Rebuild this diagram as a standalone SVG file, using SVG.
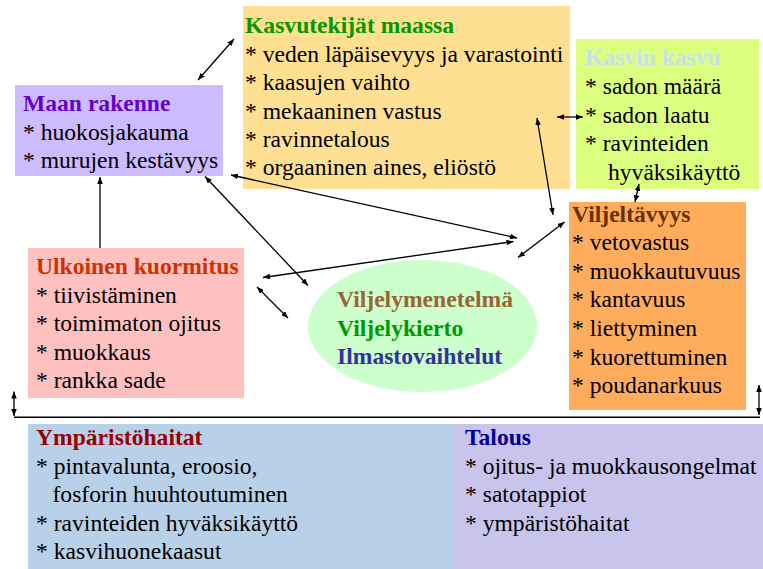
<svg xmlns="http://www.w3.org/2000/svg" width="763" height="569" viewBox="0 0 763 569">
<style>
text{font-family:"Times New Roman","Liberation Serif","DejaVu Serif",serif;font-size:23.6px;fill:#000}
.h{font-weight:bold}
.c{stroke:#000;stroke-width:1.3;fill:none}
</style>
<defs>
<marker id="ah" viewBox="0 0 10 8" refX="10" refY="4" markerWidth="7" markerHeight="5.6" markerUnits="userSpaceOnUse" orient="auto-start-reverse">
<path d="M0,0 L10,4 L0,8 z" fill="#000"/>
</marker>
</defs>
<rect width="763" height="569" fill="#fff"/>

<g id="kasvutekijat">
<rect x="243" y="6" width="327" height="183" fill="#FFDF91"/>
<text x="245" y="33" class="h" style="fill:#009900">Kasvutekijät maassa</text>
<text x="245" y="61.5">* veden läpäisevyys ja varastointi</text>
<text x="245" y="90">* kaasujen vaihto</text>
<text x="245" y="118.5">* mekaaninen vastus</text>
<text x="245" y="147">* ravinnetalous</text>
<text x="245" y="175">* orgaaninen aines, eliöstö</text>
</g>

<g id="maan-rakenne">
<rect x="15" y="85" width="208" height="91" fill="#CCBBFF"/>
<text x="23" y="110.5" class="h" style="fill:#6600CC">Maan rakenne</text>
<text x="23" y="139.5">* huokosjakauma</text>
<text x="23" y="168">* murujen kestävyys</text>
</g>

<g id="kasvin-kasvu">
<rect x="576" y="39" width="183" height="150" fill="#DDFF7F"/>
<text x="585" y="65" class="h" style="fill:#C6DFF0">Kasvin kasvu</text>
<text x="585" y="94">* sadon määrä</text>
<text x="585" y="122.5">* sadon laatu</text>
<text x="585" y="151">* ravinteiden</text>
<text x="608" y="179.5">hyväksikäyttö</text>
</g>

<g id="viljeltavyys">
<rect x="569" y="202" width="177" height="208" fill="#FFAD5C"/>
<text x="572" y="221.5" class="h" style="fill:#663300">Viljeltävyys</text>
<text x="572" y="250">* vetovastus</text>
<text x="572" y="278.5">* muokkautuvuus</text>
<text x="572" y="307">* kantavuus</text>
<text x="572" y="336">* liettyminen</text>
<text x="572" y="364.5">* kuorettuminen</text>
<text x="572" y="393">* poudanarkuus</text>
</g>

<g id="ulkoinen-kuormitus">
<rect x="28" y="248" width="216" height="150" fill="#FFC0C0"/>
<text x="36" y="273.5" class="h" style="fill:#CC3300">Ulkoinen kuormitus</text>
<text x="36" y="302.5">* tiivistäminen</text>
<text x="36" y="331">* toimimaton ojitus</text>
<text x="36" y="359.5">* muokkaus</text>
<text x="36" y="388">* rankka sade</text>
</g>

<g id="viljely">
<ellipse cx="422.5" cy="326" rx="114.5" ry="66" fill="#CCFFCC"/>
<text x="337" y="307" class="h" style="fill:#996633">Viljelymenetelmä</text>
<text x="337" y="335.5" class="h" style="fill:#009900">Viljelykierto</text>
<text x="337" y="364" class="h" style="fill:#333399">Ilmastovaihtelut</text>
</g>

<g id="ymparistohaitat">
<rect x="28" y="424" width="425" height="145" fill="#B8D0E8"/>
<text x="36" y="445" class="h" style="fill:#990000">Ympäristöhaitat</text>
<text x="36" y="473.5">* pintavalunta, eroosio,</text>
<text x="52.5" y="502">fosforin huuhtoutuminen</text>
<text x="36" y="530.5">* ravinteiden hyväksikäyttö</text>
<text x="36" y="559">* kasvihuonekaasut</text>
</g>

<g id="talous">
<rect x="453" y="424" width="310" height="145" fill="#C8C4EC"/>
<text x="465" y="445" class="h" style="fill:#000099">Talous</text>
<text x="465" y="473.5">* ojitus- ja muokkausongelmat</text>
<text x="465" y="502">* satotappiot</text>
<text x="465" y="530.5">* ympäristöhaitat</text>
</g>

<g id="connectors">
<line class="c" x1="198" y1="80" x2="234" y2="39" marker-start="url(#ah)" marker-end="url(#ah)"/>
<line class="c" x1="557" y1="117" x2="583" y2="117" marker-start="url(#ah)" marker-end="url(#ah)"/>
<line class="c" x1="537" y1="118" x2="553" y2="215" marker-start="url(#ah)" marker-end="url(#ah)"/>
<line class="c" x1="639" y1="184" x2="635" y2="202" marker-start="url(#ah)" marker-end="url(#ah)"/>
<line class="c" x1="231" y1="175" x2="517" y2="238" marker-start="url(#ah)" marker-end="url(#ah)"/>
<line class="c" x1="263" y1="277.5" x2="513.5" y2="241.5" marker-start="url(#ah)" marker-end="url(#ah)"/>
<line class="c" x1="205" y1="176.5" x2="308" y2="285.5" marker-start="url(#ah)" marker-end="url(#ah)"/>
<line class="c" x1="257" y1="287" x2="288" y2="318" marker-start="url(#ah)" marker-end="url(#ah)"/>
<line class="c" x1="518" y1="257.5" x2="564.5" y2="222" marker-start="url(#ah)" marker-end="url(#ah)"/>
<line class="c" x1="100" y1="248" x2="100" y2="177" marker-end="url(#ah)"/>
<line class="c" x1="14" y1="391.5" x2="14" y2="416" marker-start="url(#ah)" marker-end="url(#ah)"/>
<line class="c" x1="759" y1="385" x2="759" y2="415" marker-start="url(#ah)" marker-end="url(#ah)"/>
<line x1="14" y1="417.3" x2="760" y2="417.3" stroke="#000" stroke-width="1.5"/>
</g>
</svg>
